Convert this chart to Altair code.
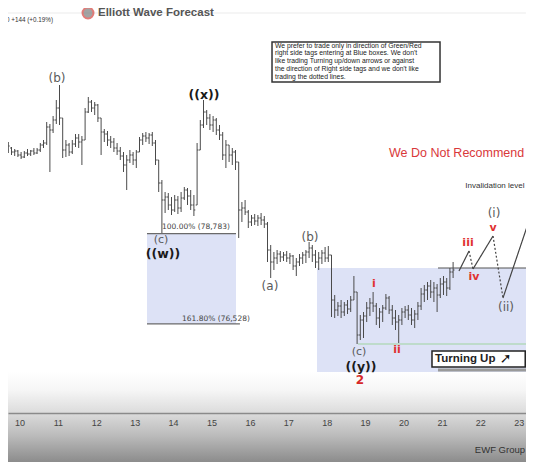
import altair as alt
import pandas as pd

# ---------------- data (2-hour OHLC bars) ----------------
DAY0 = 9 + 17 / 24   # first bar: day 9, 17:00
STEP = 2 / 24        # 2-hour bars

high = [81075, 80950, 80900, 80875, 80825, 80850, 80900, 80875, 80925, 80925,
        81050, 81125, 81575, 81525, 81725, 82125, 82500, 81675, 81125, 81050,
        81125, 81275, 81275, 81225, 81925, 82200, 82125, 82075, 82025, 81675,
        81400, 81350, 81225, 81175, 81050, 80950, 80825, 80750, 80875, 80825,
        80875, 81200, 81300, 81325, 81300, 81325, 81125, 80625, 80125, 79825,
        79800, 79700, 79750, 79725, 79825, 79950, 79925, 79875, 79750, 81050,
        81625, 82125, 81875, 81775, 81725, 81675, 81500, 81325, 81125, 81000,
        80925, 80875, 80575, 79575, 79625, 79375, 79250, 79275, 79250, 79300,
        79225, 79075, 78500, 78325, 78375, 78350, 78325, 78350, 78300, 78250,
        78175, 78275, 78325, 78375, 78575, 78500, 78375, 78325, 78375, 78450,
        78475, 78250, 77250, 77075, 77125, 77075, 77125, 77225, 77725, 77325,
        76750, 76825, 77075, 77175, 77325, 77050, 76925, 77000, 77275, 77225,
        77000, 76875, 76750, 76925, 76975, 77000, 76925, 76875, 77075, 77425,
        77500, 77575, 77625, 77575, 77525, 77675, 77725, 77675, 77925, 78075]
low = [80800, 80750, 80725, 80700, 80650, 80675, 80725, 80725, 80750, 80775,
       80825, 80925, 81000, 80325, 81300, 81525, 81500, 80675, 80700, 80725,
       80775, 80950, 80925, 80500, 81125, 81800, 81825, 81750, 81575, 80750,
       81075, 80975, 80925, 80825, 80750, 80625, 80325, 79875, 80550, 80500,
       80425, 80825, 81000, 81075, 81025, 80975, 80500, 79825, 78800, 79300,
       79375, 79250, 79325, 79275, 79325, 79625, 79500, 79375, 79225, 79500,
       80875, 81425, 81500, 81375, 81325, 81250, 81125, 80625, 80425, 80575,
       80500, 80375, 78675, 79075, 79250, 78925, 78975, 79000, 78975, 79000,
       78925, 78075, 77675, 77875, 78025, 78075, 78100, 78075, 78025, 77875,
       77725, 77975, 78025, 78050, 78175, 78075, 77925, 77875, 78025, 78075,
       78075, 76700, 76675, 76725, 76675, 76725, 76775, 76825, 77125, 76025,
       76125, 76175, 76575, 76725, 76825, 76500, 76425, 76575, 76875, 76775,
       76500, 76375, 76050, 76500, 76675, 76625, 76500, 76425, 76625, 76875,
       77075, 77125, 77175, 77075, 76825, 77175, 77250, 77225, 77375, 77675]
open_ = [80875, 80925, 80825, 80850, 80750, 80700, 80800, 80775, 80850, 80800,
         80875, 81000, 81050, 81450, 81375, 81625, 81925, 81675, 80875, 81000,
         80825, 81025, 81175, 81075, 81125, 81825, 82075, 81925, 82000, 81675,
         81325, 81275, 81125, 81075, 80925, 80850, 80725, 80500, 80625, 80750,
         80625, 80825, 81125, 81225, 81175, 81250, 81050, 80625, 80050, 79625,
         79700, 79500, 79375, 79625, 79425, 79675, 79875, 79725, 79500, 79500,
         80875, 81500, 81825, 81675, 81500, 81625, 81375, 81250, 80750, 81000,
         80750, 80825, 80575, 79375, 79425, 79325, 79075, 79175, 79100, 79175,
         79125, 79025, 78375, 78075, 78175, 78275, 78200, 78250, 78175, 78225,
         77975, 78075, 78175, 78250, 78325, 78425, 78250, 78075, 78175, 78300,
         78175, 78250, 77125, 76875, 76975, 76825, 77000, 76900, 77125, 77325,
         76250, 76625, 76725, 76925, 77050, 76975, 76675, 76825, 76925, 77175,
         76875, 76675, 76575, 76625, 76825, 76875, 76750, 76625, 76775, 76975,
         77275, 77375, 77475, 77325, 77425, 77250, 77525, 77575, 77425, 77825]
close = [80975, 80825, 80850, 80750, 80700, 80800, 80775, 80850, 80800, 80875,
         81000, 81050, 81450, 81375, 81625, 81925, 81675, 80875, 81000, 80825,
         81025, 81175, 81075, 81125, 81825, 82075, 81925, 82000, 81675, 81325,
         81275, 81125, 81075, 80925, 80850, 80725, 80500, 80625, 80750, 80625,
         80825, 81125, 81225, 81175, 81250, 81050, 80625, 80050, 79625, 79700,
         79500, 79375, 79625, 79425, 79675, 79875, 79725, 79500, 79375, 80875,
         81500, 81825, 81675, 81500, 81625, 81375, 81250, 80750, 81000, 80750,
         80825, 80575, 79375, 79425, 79325, 79075, 79175, 79100, 79175, 79125,
         79025, 78375, 78075, 78175, 78275, 78200, 78250, 78175, 78225, 77975,
         78075, 78175, 78250, 78325, 78425, 78250, 78075, 78175, 78300, 78175,
         78250, 77125, 76875, 76975, 76825, 77000, 76900, 77125, 77325, 76250,
         76625, 76725, 76925, 77050, 76975, 76675, 76825, 76925, 77175, 76875,
         76675, 76575, 76625, 76825, 76875, 76750, 76625, 76775, 76975, 77275,
         77375, 77475, 77325, 77425, 77250, 77525, 77575, 77425, 77825, 77875]

day_ticks = list(range(10, 24))

# fib / level values
fib_100 = 78783
fib_161 = 76528
invalidation = 77925
low_y = 76025

# wave labels: (text, day, price)
gray_labels = [("(b)", 10.977, 82675), ("(a)", 16.523, 77475),
               ("(b)", 17.565, 78700), ("(i)", 22.357, 79300),
               ("(ii)", 22.669, 76950)]
gray_small = [("(c)", 13.685, 78625), ("(c)", 18.841, 75825)]
dark_labels = [("((x))", 14.805, 82250), ("((w))", 13.737, 78275), ("((y))", 18.893, 75450)]
red_labels = [("i", 19.232, 77525), ("ii", 19.831, 75875), ("iii", 21.680, 78550),
              ("iv", 21.836, 77700), ("v", 22.331, 78925)]

# projected path: (t0, p0, t1, p1, style)
path = [(21.445, 77850, 21.706, 78350, "solid"),
        (21.706, 78350, 21.810, 77900, "dotted"),
        (21.810, 77900, 22.331, 78725, "solid"),
        (22.331, 78725, 22.591, 77175, "dotted"),
        (22.591, 77175, 23.451, 79625, "solid")]

disclaimer = ["We prefer to trade only in direction of Green/Red",
              "right side tags entering at Blue boxes. We don't",
              "like trading Turning up/down arrows or against",
              "the direction of Right side tags and we don't like",
              "trading the dotted lines."]
disclaimer_p = [83485, 83290, 83095, 82900, 82705]

# ---------------- scales ----------------
XS = alt.Scale(domain=[9.7005, 23.1901], nice=False, zero=False)
YS = alt.Scale(domain=[73075, 84425], nice=False, zero=False)
XAXIS = alt.Axis(values=day_ticks, format="d", grid=False, ticks=False,
                 domainColor="#8a8a8a", domainWidth=1.5,
                 labelColor="#444444", labelFontSize=9,
                 labelFont="Liberation Sans", labelPadding=5,
                 labelFlush=False, offset=-49, title=None, zindex=1)


def X(field="t"):
    return alt.X(f"{field}:Q", scale=XS, axis=XAXIS)


def Y(field="p"):
    return alt.Y(f"{field}:Q", scale=YS, axis=None)


t = [DAY0 + i * STEP for i in range(len(high))]
bars = pd.DataFrame({"t": t, "open": open_, "high": high, "low": low, "close": close})

# background gradient at bottom
grad = alt.Chart(pd.DataFrame({"t": [9.70], "t2": [23.19], "p": [75325], "p2": [73075]})).mark_rect(
    color=alt.Gradient(gradient="linear", x1=0, x2=0, y1=0, y2=1,
                       stops=[alt.GradientStop(offset=0, color="#ffffff"),
                              alt.GradientStop(offset=0.2, color="#f6f6f6"),
                              alt.GradientStop(offset=0.45, color="#dcdcdc"),
                              alt.GradientStop(offset=0.7, color="#bcbcbc"),
                              alt.GradientStop(offset=1, color="#8c8c8c")])
).encode(x=X(), x2="t2:Q", y=Y(), y2="p2:Q")

boxes = pd.DataFrame({"t": [13.320, 17.747], "t2": [15.638, 23.19],
                      "p": [fib_100, invalidation], "p2": [fib_161, 75325]})
blue = alt.Chart(boxes).mark_rect(color="#dde2f6").encode(x=X(), x2="t2:Q", y=Y(), y2="p2:Q")

levels = pd.DataFrame({"t": [13.320, 13.320, 20.898, 18.815, 9.70],
                       "t2": [15.638, 15.74, 23.19, 23.19, 23.19],
                       "p": [fib_100, fib_161, invalidation, low_y, 84300],
                       "c": ["#6a6a6a", "#6a6a6a", "#555555", "#9fd49f", "#ececec"]})
level_rules = alt.Chart(levels).mark_rule(strokeWidth=1.2).encode(
    x=X(), x2="t2:Q", y=Y(), color=alt.Color("c:N", scale=None))

# OHLC bars
bar_color = "#4a4a4a"
hl = alt.Chart(bars).mark_rule(color=bar_color, strokeWidth=1).encode(
    x=X(), y=alt.Y("low:Q", scale=YS, axis=None), y2="high:Q")
op = alt.Chart(bars).mark_rule(color=bar_color, strokeWidth=1, xOffset=-1.4).encode(
    x=X(), x2="t:Q", y=alt.Y("open:Q", scale=YS, axis=None))
cl = alt.Chart(bars).mark_rule(color=bar_color, strokeWidth=1, x2Offset=1.4).encode(
    x=X(), x2="t:Q", y=alt.Y("close:Q", scale=YS, axis=None))

# projected path
pdf = pd.DataFrame(path, columns=["t", "p", "t2", "p2", "style"])
proj = alt.Chart(pdf).mark_rule(color="#444444", strokeWidth=1.2).encode(
    x=X(), x2="t2:Q", y=Y(), y2="p2:Q",
    strokeDash=alt.StrokeDash("style:N", scale=alt.Scale(domain=["solid", "dotted"],
                                                           range=[[1, 0], [2, 2]]), legend=None))


def txt(rows, **kw):
    df = pd.DataFrame(rows, columns=["label", "t", "p"])
    return alt.Chart(df).mark_text(**kw).encode(x=X(), y=Y(), text="label:N")


gray_t = txt(gray_labels, font="DejaVu Sans", fontSize=12, color="#5a5a5a")
gray_s = txt(gray_small, font="DejaVu Sans", fontSize=11, color="#5a5a5a")
dark_t = txt(dark_labels, font="DejaVu Sans", fontSize=12.5, color="#1a1a1a", fontWeight=600)
red_t = txt(red_labels, font="DejaVu Sans", fontSize=11, color="#e03131", fontWeight="bold")
two_t = txt([("2", 18.867, 75125)], font="DejaVu Sans", fontSize=12, color="#d62828", fontWeight="bold")

fib_t = txt([("100.00% (78,783)", 13.711, 78950), ("161.80% (76,528)", 14.232, 76650)],
            font="DejaVu Sans", fontSize=7.5, color="#444444", align="left")
inval_t = txt([("Invalidation level", 22.38, 79975)], font="Liberation Sans", fontSize=8,
              color="#333333")
warn_t = txt([("We Do Not Recommend Selling", 19.622, 80800)], font="Liberation Sans",
             fontSize=12.5, color="#d9383a", align="left")
ewf_t = txt([("EWF Group", 23.164, 73375)], font="Liberation Sans", fontSize=9.5,
            color="#333333", align="right")
top_t = txt([("77,950 +144 (+0.19%)", 10.872, 84125)], font="Liberation Sans", fontSize=6.3,
            color="#333333", align="right")
logo_t = txt([("Elliott Wave Forecast", 12.044, 84300)], font="Liberation Sans", fontSize=11.5,
             fontWeight="bold", color="#555555", align="left")
logo_dot = alt.Chart(pd.DataFrame({"t": [11.784], "p": [84300]})).mark_point(
    filled=True, size=120, color="#7d7d7d", stroke="#d64541", strokeWidth=2).encode(x=X(), y=Y())

# disclaimer box
disc_box = alt.Chart(pd.DataFrame({"t": [16.576], "t2": [20.951], "p": [83575], "p2": [82575]})).mark_rect(
    fill="white", stroke="#333333", strokeWidth=1.5).encode(x=X(), x2="t2:Q", y=Y(), y2="p2:Q")
disc_t = alt.Chart(pd.DataFrame({"label": disclaimer, "t": [16.654] * 5, "p": disclaimer_p})).mark_text(
    font="Liberation Sans", fontSize=6.8, color="#222222", align="left").encode(x=X(), y=Y(), text="label:N")

# turning up box
shadow = alt.Chart(pd.DataFrame({"t": [20.898], "t2": [23.19], "p": [75375]})).mark_rule(
    color="#9a9a9a", strokeWidth=3).encode(x=X(), x2="t2:Q", y=Y())
tu_box = alt.Chart(pd.DataFrame({"t": [20.742], "t2": [23.17], "p": [75850], "p2": [75450]})).mark_rect(
    fill="white", stroke="#222222", strokeWidth=1.5).encode(x=X(), x2="t2:Q", y=Y(), y2="p2:Q")
tu_t = txt([("Turning Up", 20.82, 75650)], font="Liberation Sans", fontSize=11.5, fontWeight="bold",
           color="#222222", align="left")
tu_arrow = txt([("\u279a", 22.66, 75650)], font="DejaVu Sans", fontSize=14, fontWeight="bold",
               color="#111111")

chart = alt.layer(
    grad, blue, level_rules, hl, op, cl, proj,
    gray_t, gray_s, dark_t, red_t, two_t, fib_t, inval_t, warn_t, ewf_t, top_t, logo_dot, logo_t,
    disc_box, disc_t, shadow, tu_box, tu_t, tu_arrow
).properties(
    width=518, height=454, autosize=alt.AutoSizeParams(type="none"), padding=0, background="white"
).configure_view(stroke=None)

chart.save("out.html", embed_options={"renderer": "svg", "actions": False})
